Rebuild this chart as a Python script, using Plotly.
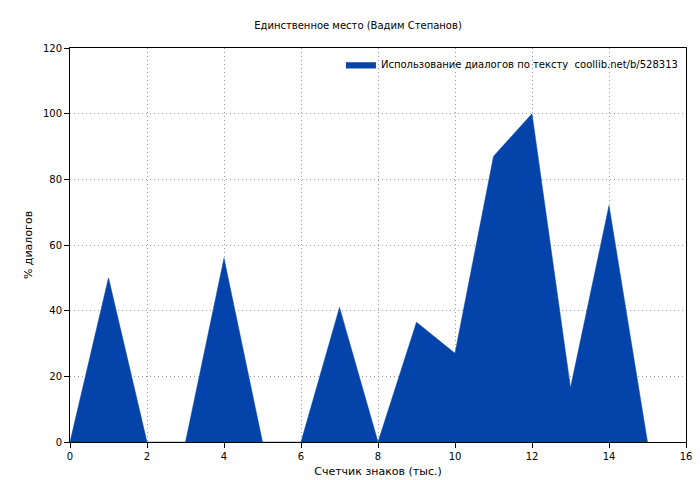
import plotly.graph_objects as go

x = list(range(16))
y = [0, 50, 0, 0, 56, 0, 0, 41, 0, 36.5, 27, 87, 100, 16.5, 72, 0]
title = "Единственное место (Вадим Степанов)"
legend_name = "Использование диалогов по тексту  coollib.net/b/528313"

fig = go.Figure()
fig.add_trace(go.Scatter(x=x, y=y, fill="tozeroy", mode="lines",
                         line=dict(color="#0444AA", width=0.5),
                         fillcolor="#0444AA", name=legend_name))
ax = dict(showgrid=True, gridcolor="#999", griddash="1px,3px", gridwidth=1,
          showline=True, linecolor="black", mirror=True, ticks="outside",
          ticklen=5, tickcolor="black", zeroline=False, automargin=False,
          title_font=dict(size=11))
fig.update_layout(
    width=700, height=480, plot_bgcolor="white", paper_bgcolor="white",
    font=dict(family="DejaVu Sans", size=10, color="black"),
    title=dict(text=title, x=0.5, xanchor="center", y=0.97, font=dict(size=10)),
    margin=dict(l=62, r=22, t=40, b=46),
    xaxis=dict(ax, range=[0, 16], dtick=2, title=dict(text="Счетчик знаков (тыс.)", standoff=6)),
    yaxis=dict(ax, range=[0, 120], dtick=20, title=dict(text="% диалогов", standoff=8)),
    showlegend=True,
    legend=dict(x=0.995, y=0.995, xanchor="right", yanchor="top", bgcolor="rgba(0,0,0,0)"),
)
fig.write_html("out.html")
